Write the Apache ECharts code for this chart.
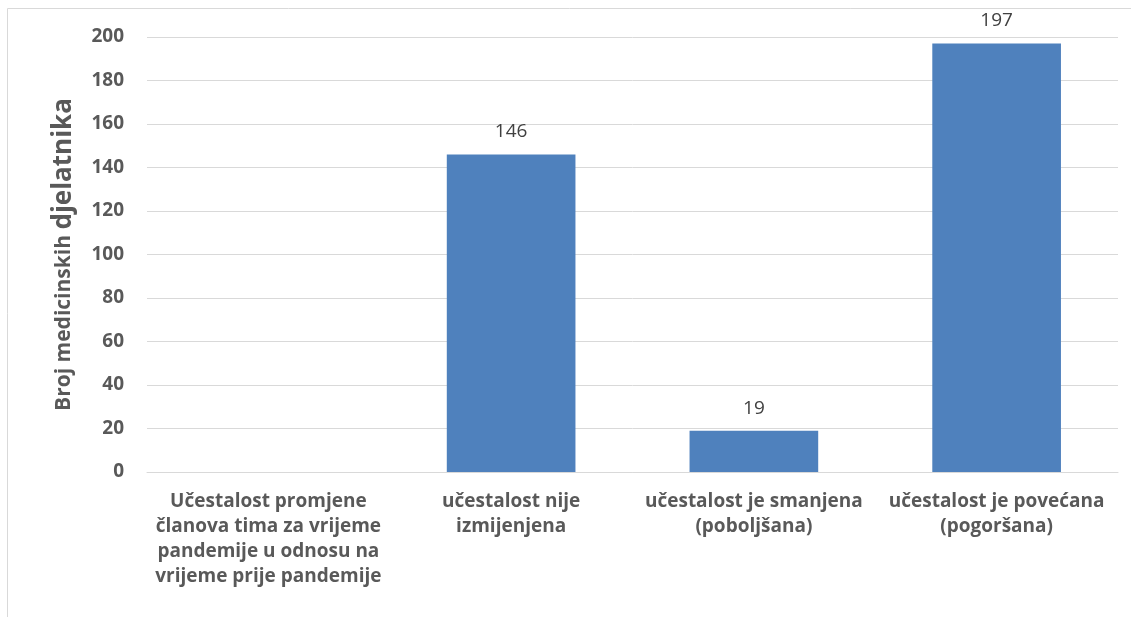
<!DOCTYPE html>
<html>
<head>
<meta charset="utf-8">
<script src="https://cdn.jsdelivr.net/npm/echarts@6/dist/echarts.min.js"></script>
<style>
  html, body { margin: 0; padding: 0; background: #fff; }
  #main { width: 1131px; height: 617px; }
</style>
</head>
<body>
<div id="main"></div>
<script>
// chart data
var categories = [
  "Učestalost promjene\nčlanova tima za vrijeme\npandemije u odnosu na\nvrijeme prije pandemije",
  "učestalost nije\nizmijenjena",
  "učestalost je smanjena\n(poboljšana)",
  "učestalost je povećana\n(pogoršana)"
];
var values = ["-", 146, 19, 197];
var yTicks = [0, 20, 40, 60, 80, 100, 120, 140, 160, 180, 200];

var myChart = echarts.init(document.getElementById("main"));
var font = "Open Sans";

var option = {
  animation: false,
  graphic: [
    {
      type: "rect",
      shape: { x: 7.5, y: 8.5, width: 1200, height: 700 },
      style: { fill: "none", stroke: "#d9d9d9", lineWidth: 1 },
    },
  ],
  grid: {
    left: 147,
    right: 13,
    top: 37,
    bottom: 145,
  },
  xAxis: {
    type: "category",
    data: categories,
    axisLine: { show: true, lineStyle: { color: "#d9d9d9" } },
    axisTick: { show: false },
    axisLabel: {
      interval: 0,
      margin: 17,
      fontFamily: font,
      fontWeight: "bold",
      fontSize: 19,
      lineHeight: 25,
      color: "#595959",
    },
  },
  yAxis: {
    type: "value",
    min: yTicks[0],
    max: yTicks[yTicks.length - 1],
    interval: 20,
    name: "{a|Broj medicinskih }{b|djelatnika}",
    nameLocation: "middle",
    nameGap: 70,
    nameTextStyle: {
      rich: {
        a: { fontFamily: font, fontWeight: "bold", fontSize: 21, color: "#595959" },
        b: { fontFamily: font, fontWeight: "bold", fontSize: 26, color: "#595959" },
      },
    },
    axisLine: { show: false },
    axisTick: { show: false },
    splitLine: { lineStyle: { color: "#d9d9d9" } },
    axisLabel: {
      margin: 23,
      fontFamily: font,
      fontWeight: "bold",
      fontSize: 19,
      color: "#595959",
    },
  },
  series: [
    {
      type: "bar",
      data: values,
      barWidth: "53%",
      itemStyle: { color: "#4f81bd" },
      label: {
        show: true,
        position: "top",
        distance: 13,
        fontFamily: font,
        fontSize: 19,
        color: "#404040",
      },
    },
  ],
};

option && myChart.setOption(option);
</script>
</body>
</html>
